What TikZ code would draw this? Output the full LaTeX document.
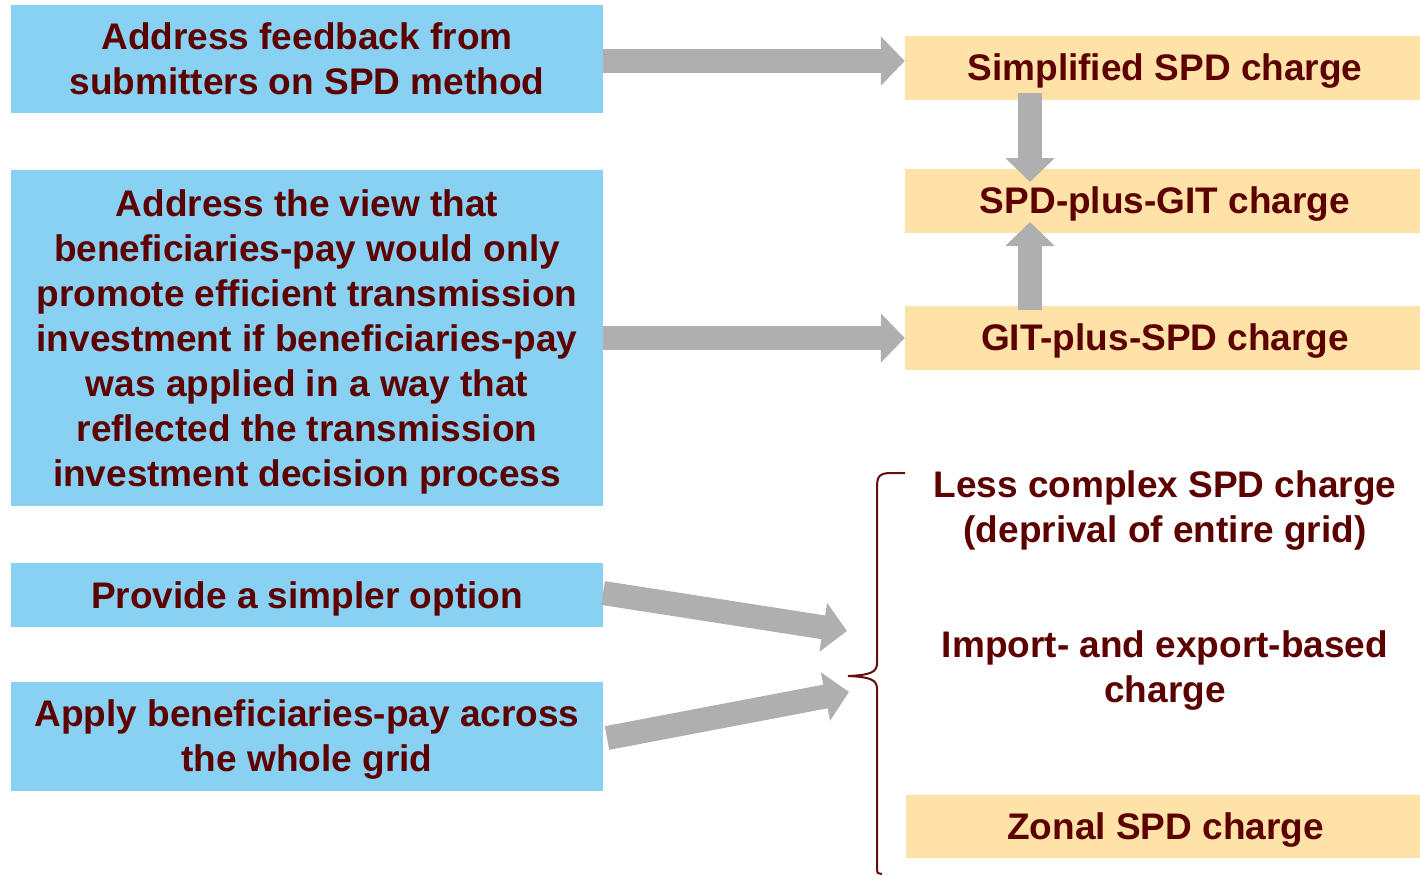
\documentclass[tikz,border=0pt]{standalone}
\usepackage{fontspec}
\setmainfont{Liberation Sans}
\usetikzlibrary{arrows.meta}
\definecolor{boxblue}{HTML}{89D1F3}
\definecolor{boxorange}{HTML}{FFE2A8}
\definecolor{arrgray}{HTML}{AFAFAF}
\definecolor{txtred}{HTML}{5C0000}
\definecolor{bracered}{HTML}{6B0A0A}
\begin{document}
\begin{tikzpicture}[x=1pt,y=-1pt,
  lbl/.style={font=\fontsize{37}{45}\selectfont\bfseries, text=txtred, align=center, inner sep=0pt},
  bluebox/.style={fill=boxblue, minimum width=592pt, inner sep=0pt},
  orangebox/.style={fill=boxorange, minimum width=515pt, minimum height=64pt, inner sep=0pt},
  btext/.style={label={[lbl, yshift=-3.5pt]center:{#1}}},
  btexthi/.style={label={[lbl, yshift=0pt]center:{#1}}},
  otext/.style={label={[lbl, yshift=-3.5pt, xshift=2.5pt]center:{#1}}},
  bigarrow/.style={draw=arrgray, line width=24pt, -{Triangle[length=24pt,width=48pt]}},
]
\useasboundingbox (0,0) rectangle (1420,875);
% left boxes
\node[bluebox, minimum height=108pt, btexthi={Address feedback from\\submitters on SPD method}] (b1) at (307,59) {};
\node[bluebox, minimum height=336pt, btext={Address the view that\\beneficiaries-pay would only\\promote efficient transmission\\investment if beneficiaries-pay\\was applied in a way that\\reflected the transmission\\investment decision process}] (b2) at (307,338) {};
\node[bluebox, minimum height=64pt, btext={Provide a simpler option}] (b3) at (307,595) {};
\node[bluebox, minimum height=109pt, btext={Apply beneficiaries-pay across\\the whole grid}] (b4) at (307,736.5) {};
% right boxes
\node[orangebox, otext={Simplified SPD charge}] (r1) at (1162.5,68) {};
\node[orangebox, otext={SPD-plus-GIT charge}] (r2) at (1162.5,201) {};
\node[orangebox, otext={GIT-plus-SPD charge}] (r3) at (1162.5,338) {};
\node[orangebox, minimum height=63pt, minimum width=514pt, otext={Zonal SPD charge}] (r6) at (1163,826.5) {};
\node[lbl, yshift=-3.5pt] (r4) at (1165,507) {Less complex SPD charge\\(deprival of entire grid)};
\node[lbl, yshift=-3.5pt] (r5) at (1165,667) {Import- and export-based\\charge};
% arrows
\draw[bigarrow] (b1.east |- 0,61) -- (r1.west |- 0,61);
\draw[bigarrow] (b2.east |- 0,338) -- (r3.west |- 0,338);
\coordinate (d1) at (1030,93);
\coordinate (d2) at (1030,182);
\coordinate (u1) at (1030,310);
\coordinate (u2) at (1030,222);
\draw[bigarrow] (d1) -- (d2);
\draw[bigarrow] (u1) -- (u2);
\coordinate (a3s) at (603,593);
\coordinate (a3e) at (847,631);
\coordinate (a4s) at (607,738);
\coordinate (a4e) at (849,692);
\draw[bigarrow] (a3s) -- (a3e);
\draw[bigarrow] (a4s) -- (a4e);
% brace
\coordinate (bt) at (905,473);
\coordinate (bm) at (848,676);
\coordinate (bb) at (882,874);
\draw[bracered, line width=2pt]
  (bt) -- (891,473) .. controls (879,473) and (877,477) .. (877,487)
  -- (877,663) .. controls (877,672) and (871,675) .. (bm)
  .. controls (871,677) and (877,680) .. (877,689)
  -- (877,870) .. controls (877,873) .. (bb);
\end{tikzpicture}
\end{document}
